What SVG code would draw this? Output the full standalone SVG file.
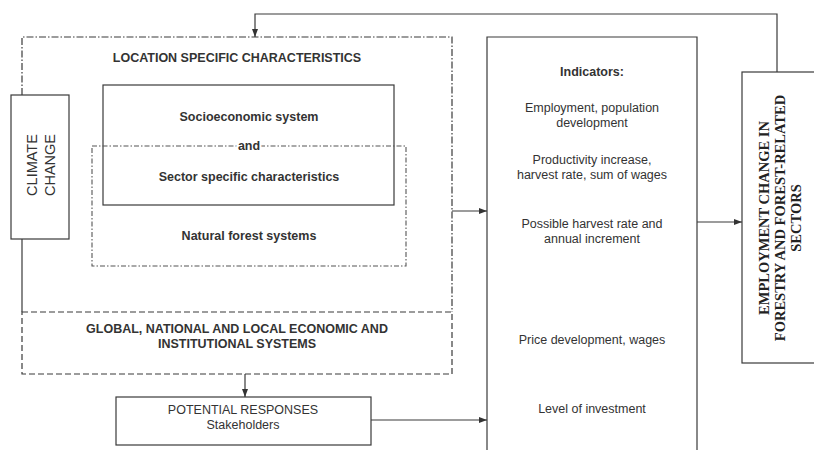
<svg xmlns="http://www.w3.org/2000/svg" width="814" height="450" viewBox="0 0 814 450">
<defs>
<marker id="ah" markerWidth="8" markerHeight="6" refX="8" refY="3" orient="auto" markerUnits="userSpaceOnUse">
<path d="M0,0 L8,3 L0,6 Z" fill="#333"/>
</marker>
<style>
.ln{fill:none;stroke:#3a3a3a;stroke-width:1.2}
.dd{fill:none;stroke:#3a3a3a;stroke-width:1.2;stroke-dasharray:7 2 1.5 2}
.dd2{fill:none;stroke:#555;stroke-width:1.1;stroke-dasharray:5 2 1.5 2}
.da{fill:none;stroke:#3a3a3a;stroke-width:1.2;stroke-dasharray:6 3}
.b{font-family:"Liberation Sans",Arial,sans-serif;font-weight:bold;font-size:12.5px;fill:#333;text-anchor:middle}
.r{font-family:"Liberation Sans",Arial,sans-serif;font-size:12.5px;fill:#333;text-anchor:middle}
.cc{font-family:"Liberation Sans",Arial,sans-serif;font-size:14.5px;fill:#333;text-anchor:middle}
.tb{font-family:"Liberation Serif","Times New Roman",serif;font-weight:bold;font-size:14.5px;fill:#222;text-anchor:middle}
</style>
</defs>
<rect width="814" height="450" fill="#fff"/>

<g id="location">
<path class="dd" d="M22,95 V37 H452 V312"/>
<text class="b" x="237" y="62">LOCATION SPECIFIC CHARACTERISTICS</text>
</g>

<g id="socioeconomic">
<rect class="ln" x="103" y="85" width="291" height="120"/>
<text class="b" x="249" y="121">Socioeconomic system</text>
<text class="b" x="249" y="181">Sector specific characteristics</text>
</g>

<g id="natural-forest">
<rect class="dd2" x="92" y="146" width="314" height="120"/>
<text class="b" x="249" y="150" stroke="#fff" stroke-width="4" paint-order="stroke">and</text>
<text class="b" x="249" y="240">Natural forest systems</text>
</g>

<g id="global">
<rect class="da" x="22" y="312" width="430" height="62"/>
<text class="b" x="237" y="333">GLOBAL, NATIONAL AND LOCAL ECONOMIC AND</text>
<text class="b" x="237" y="348">INSTITUTIONAL SYSTEMS</text>
</g>

<g id="climate-change">
<rect class="ln" x="11" y="95" width="58" height="144" fill="#fff"/>
<text class="cc" transform="translate(36.5,165) rotate(-90)">CLIMATE</text>
<text class="cc" transform="translate(54.5,165) rotate(-90)">CHANGE</text>
</g>

<g id="potential-responses">
<rect class="ln" x="116" y="397" width="255" height="48"/>
<text class="r" x="243" y="414">POTENTIAL RESPONSES</text>
<text class="r" x="243" y="429">Stakeholders</text>
</g>

<g id="indicators">
<path class="ln" d="M487,452 V37 H697 V452"/>
<text class="r" x="592" y="76" font-weight="bold">Indicators:</text>
<text class="r" x="592" y="112">Employment, population</text>
<text class="r" x="592" y="127">development</text>
<text class="r" x="592" y="164">Productivity increase,</text>
<text class="r" x="592" y="179">harvest rate, sum of wages</text>
<text class="r" x="592" y="228">Possible harvest rate and</text>
<text class="r" x="592" y="243">annual increment</text>
<text class="r" x="592" y="344">Price development, wages</text>
<text class="r" x="592" y="413">Level of investment</text>
</g>

<g id="employment-change">
<rect class="ln" x="742" y="72" width="80" height="291"/>
<text class="tb" transform="translate(769,218) rotate(-90)">EMPLOYMENT CHANGE IN</text>
<text class="tb" transform="translate(785,218) rotate(-90)">FORESTRY AND FOREST-RELATED</text>
<text class="tb" transform="translate(801,218) rotate(-90)">SECTORS</text>
</g>

<g id="connectors">
<path class="ln" d="M777,72 V14 H255 V37" marker-end="url(#ah)"/>
<path class="ln" d="M452,211 H487" marker-end="url(#ah)"/>
<path class="ln" d="M697,222 H742" marker-end="url(#ah)"/>
<path class="ln" d="M245,374 V397" marker-end="url(#ah)"/>
<path class="ln" d="M371,420 H487" marker-end="url(#ah)"/>
<path class="ln" d="M22,239 V312"/>
</g>
</svg>
